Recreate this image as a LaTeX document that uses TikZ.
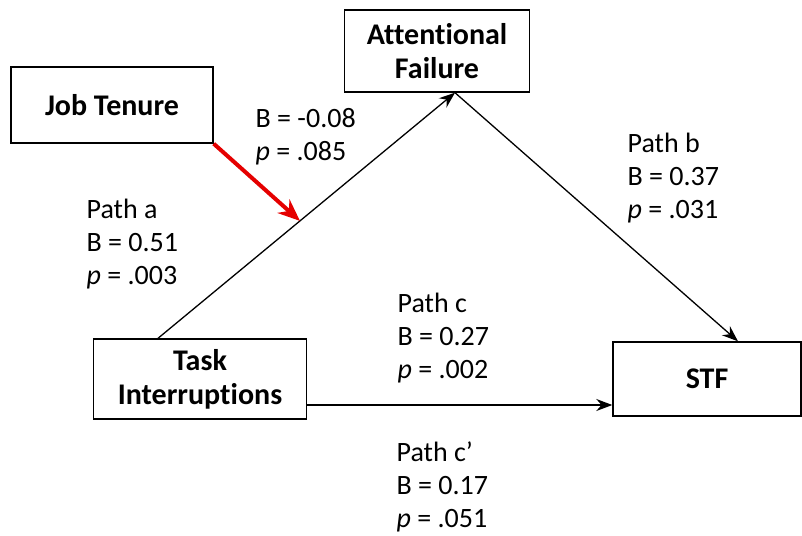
\documentclass[tikz,border=0pt]{standalone}
\usepackage{fontspec}
\setmainfont[Ligatures=NoCommon]{Carlito}
\usetikzlibrary{arrows.meta}

\begin{document}
\begin{tikzpicture}[x=1pt,y=-1pt,>={Stealth[length=16pt,width=12pt]},line width=1.3pt,
  var node/.style={rectangle,draw,line width=1.4pt,align=center,font=\fontsize{30}{34}\selectfont\bfseries,inner sep=0pt},
  path label/.style={anchor=north west,align=left,inner sep=0pt,font=\fontsize{28}{33}\selectfont}]

  \useasboundingbox (0,0) rectangle (802,535);

  \node[var node,minimum width=202pt,minimum height=76pt] (JT) at (112,105) {Job Tenure};
  \node[var node,minimum width=185pt,minimum height=82pt] (AF) at (437,51) {Attentional\\Failure};
  \node[var node,minimum width=213pt,minimum height=80pt] (TI) at (200,379) {Task\\Interruptions};
  \node[var node,minimum width=188pt,minimum height=74pt] (STF) at (707,379) {STF};

  \coordinate (a start) at ([xshift=-42pt]TI.north);
  \coordinate (a end) at ([xshift=18pt]AF.south);

  \path[->]
  (a start) edge coordinate[pos=0.478] (mod) (a end)
  (a end) edge ([xshift=31pt]STF.north)
  ([yshift=-26pt]TI.east) edge ([yshift=-26pt]STF.west);

  \draw[->,red!90!black,line width=4pt,>={Stealth[length=22pt,width=18pt]}] (JT.south east) -- (mod);

  \node[path label] (la) at (86,198) {Path a\\B = 0.51\\\textit{p} = .003};
  \node[path label] (lm) at (255,108) {B = -0.08\\\textit{p} = .085};
  \node[path label] (lb) at (627,132) {Path b\\B = 0.37\\\textit{p} = .031};
  \node[path label] (lc) at (397,292) {Path c\\B = 0.27\\\textit{p} = .002};
  \node[path label] (lc2) at (396,441) {Path c’\\B = 0.17\\\textit{p} = .051};
\end{tikzpicture}
\end{document}
